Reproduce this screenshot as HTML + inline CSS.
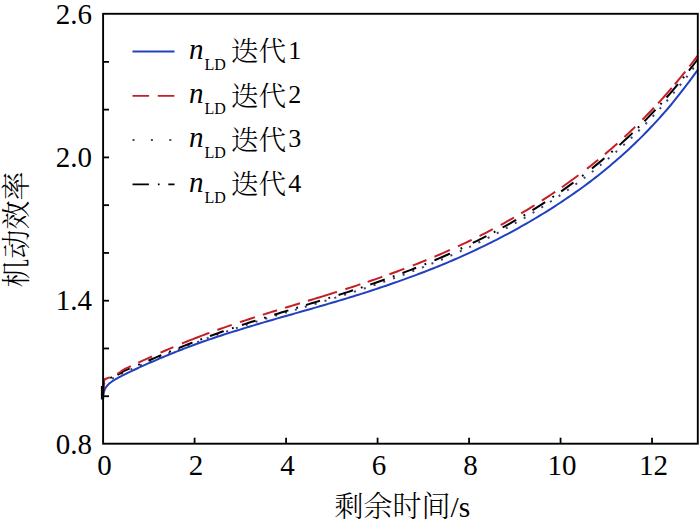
<!DOCTYPE html>
<html><head><meta charset="utf-8"><style>
html,body{margin:0;padding:0;background:#fff;}
svg{display:block;}
text{font-family:"Liberation Serif", "Noto Serif CJK SC", serif;fill:#000;}
</style></head><body>
<svg width="700" height="526" viewBox="0 0 700 526">
<rect width="700" height="526" fill="#fff"/>
<g fill="none" stroke-linejoin="round">
<line x1="101.7" y1="386" x2="101.7" y2="399.5" stroke="#000" stroke-width="1.6"/>
<path d="M103.10,399.31 L103.40,394.53 L103.56,393.56 L103.70,392.85 L104.01,391.60 L104.40,390.43 L104.47,390.24 L104.93,389.16 L105.39,388.27 L106.00,387.26 L106.50,386.55 L107.62,385.21 L108.73,384.09 L109.84,383.11 L110.00,382.99 L110.96,382.24 L112.07,381.44 L113.19,380.69 L114.00,380.18 L114.30,379.99 L115.42,379.32 L116.53,378.67 L117.64,378.05 L118.00,377.86 L118.76,377.44 L119.87,376.85 L120.99,376.27 L122.10,375.70 L123.22,375.14 L124.33,374.58 L125.45,374.03 L126.56,373.49 L127.67,372.95 L128.79,372.41 L129.90,371.88 L131.02,371.35 L132.13,370.82 L133.25,370.30 L134.36,369.77 L135.47,369.25 L136.59,368.74 L137.70,368.22 L138.82,367.71 L139.93,367.20 L141.05,366.69 L142.16,366.19 L143.27,365.69 L144.39,365.19 L145.50,364.69 L146.62,364.20 L147.73,363.71 L148.85,363.21 L151.60,362.00 L154.36,360.81 L157.12,359.62 L159.88,358.44 L162.64,357.28 L165.40,356.13 L168.16,354.99 L170.91,353.86 L173.67,352.75 L176.43,351.65 L179.19,350.56 L181.95,349.49 L184.71,348.43 L187.47,347.38 L190.22,346.34 L192.98,345.31 L195.74,344.29 L198.50,343.29 L201.26,342.29 L204.02,341.31 L206.78,340.35 L209.53,339.39 L212.29,338.45 L215.05,337.51 L217.81,336.59 L220.57,335.68 L223.33,334.78 L226.09,333.90 L228.84,333.02 L231.60,332.15 L234.36,331.29 L237.12,330.44 L239.88,329.60 L242.64,328.74 L245.40,327.88 L248.15,327.04 L250.91,326.20 L253.67,325.37 L256.43,324.54 L259.19,323.72 L261.95,322.90 L264.71,322.09 L267.46,321.29 L270.22,320.48 L272.98,319.69 L275.74,318.89 L278.50,318.10 L281.26,317.31 L284.02,316.53 L286.77,315.74 L289.53,314.96 L292.29,314.17 L295.05,313.39 L297.81,312.61 L300.57,311.83 L303.33,311.04 L306.08,310.25 L308.84,309.46 L311.60,308.67 L314.36,307.88 L317.12,307.09 L319.88,306.29 L322.64,305.49 L325.39,304.69 L328.15,303.88 L330.91,303.07 L333.67,302.26 L336.43,301.44 L339.19,300.61 L341.95,299.79 L344.70,298.95 L347.46,298.12 L350.22,297.27 L352.98,296.42 L355.74,295.57 L358.50,294.70 L361.26,293.84 L364.01,292.96 L366.77,292.08 L369.53,291.19 L372.29,290.29 L375.05,289.38 L377.81,288.47 L380.57,287.55 L383.32,286.62 L386.08,285.68 L388.84,284.73 L391.60,283.77 L394.36,282.81 L397.12,281.83 L399.88,280.85 L402.63,279.87 L405.39,278.89 L408.15,277.89 L410.91,276.89 L413.67,275.87 L416.43,274.84 L419.19,273.81 L421.94,272.76 L424.70,271.70 L427.46,270.63 L430.22,269.55 L432.98,268.45 L435.74,267.35 L438.50,266.23 L441.25,265.10 L444.01,263.96 L446.77,262.81 L449.53,261.64 L452.29,260.47 L455.05,259.28 L457.81,258.07 L460.56,256.85 L463.32,255.62 L466.08,254.38 L468.84,253.12 L471.60,251.85 L474.36,250.57 L477.12,249.27 L479.87,247.95 L482.63,246.63 L485.39,245.29 L488.15,243.93 L490.91,242.56 L493.67,241.17 L496.42,239.77 L499.18,238.35 L501.94,236.92 L504.70,235.48 L507.46,234.02 L510.22,232.55 L512.98,231.06 L515.73,229.55 L518.49,228.03 L521.25,226.48 L524.01,224.92 L526.77,223.35 L529.53,221.75 L532.29,220.14 L535.04,218.51 L537.80,216.85 L540.56,215.18 L543.32,213.49 L546.08,211.78 L548.84,210.05 L551.60,208.31 L554.35,206.55 L557.11,204.77 L559.87,202.97 L562.63,201.14 L565.39,199.29 L568.15,197.42 L570.91,195.53 L573.66,193.61 L576.42,191.67 L579.18,189.71 L581.94,187.72 L584.70,185.70 L587.46,183.66 L590.22,181.59 L592.97,179.50 L595.73,177.38 L598.49,175.23 L601.25,173.03 L604.01,170.78 L606.77,168.51 L609.53,166.20 L612.28,163.86 L615.04,161.49 L617.80,159.09 L620.56,156.66 L623.32,154.19 L626.08,151.69 L628.84,149.16 L631.59,146.59 L634.35,143.98 L637.11,141.33 L639.87,138.65 L642.63,135.88 L645.39,133.06 L648.15,130.20 L650.90,127.30 L653.66,124.36 L656.42,121.38 L659.18,118.35 L661.94,115.27 L664.70,112.16 L667.46,108.99 L670.21,105.77 L672.97,102.39 L675.73,98.96 L678.49,95.48 L681.25,91.94 L684.01,88.36 L686.77,84.74 L689.52,81.08 L692.28,77.36 L695.04,73.59 L697.80,69.76" stroke="#2040c0" stroke-width="2"/>
<path d="M103.10,394.54 L103.40,391.83 L103.56,388.69 L103.70,385.99 L104.01,384.51 L104.40,382.80 L104.47,382.72 L104.93,382.29 L105.39,381.91 L106.00,381.46 L106.50,381.16 L107.62,380.55 L108.73,380.01 L109.84,379.51 L110.00,379.44 L110.96,378.98 L112.07,378.50 L113.19,378.11 L114.00,377.83 L114.30,377.69 L115.42,377.19 L116.53,376.68 L117.64,376.17 L118.00,376.00 L118.76,375.54 L119.87,374.85 L120.99,374.15 L122.10,373.46 L123.22,372.76 L124.33,372.13 L125.45,371.66 L126.56,371.19 L127.67,370.71 L128.79,370.24 L129.90,369.77 L131.02,369.30 L132.13,368.82 L133.25,368.35 L134.36,367.88 L135.47,367.41 L136.59,366.93 L137.70,366.46 L138.82,365.99 L139.93,365.51 L141.05,365.04 L142.16,364.56 L143.27,364.09 L144.39,363.62 L145.50,363.14 L146.62,362.67 L147.73,362.19 L148.85,361.72 L151.60,360.55 L154.36,359.38 L157.12,358.22 L159.88,357.05 L162.64,355.90 L165.40,354.75 L168.16,353.61 L170.91,352.47 L173.67,351.34 L176.43,350.22 L179.19,349.11 L181.95,348.01 L184.71,346.91 L187.47,345.83 L190.22,344.75 L192.98,343.69 L195.74,342.63 L198.50,341.58 L201.26,340.55 L204.02,339.52 L206.78,338.50 L209.53,337.49 L212.29,336.49 L215.05,335.50 L217.81,334.52 L220.57,333.55 L223.33,332.59 L226.09,331.63 L228.84,330.68 L231.60,329.75 L234.36,328.81 L237.12,327.89 L239.88,326.97 L242.64,326.06 L245.40,325.16 L248.15,324.26 L250.91,323.37 L253.67,322.49 L256.43,321.61 L259.19,320.73 L261.95,319.87 L264.71,319.02 L267.46,318.17 L270.22,317.33 L272.98,316.49 L275.74,315.66 L278.50,314.83 L281.26,314.00 L284.02,313.17 L286.77,312.34 L289.53,311.52 L292.29,310.69 L295.05,309.87 L297.81,309.05 L300.57,308.23 L303.33,307.40 L306.08,306.58 L308.84,305.75 L311.60,304.92 L314.36,304.09 L317.12,303.26 L319.88,302.43 L322.64,301.60 L325.39,300.76 L328.15,299.92 L330.91,299.07 L333.67,298.22 L336.43,297.37 L339.19,296.51 L341.95,295.65 L344.70,294.78 L347.46,293.91 L350.22,293.04 L352.98,292.15 L355.74,291.26 L358.50,290.37 L361.26,289.47 L364.01,288.56 L366.77,287.65 L369.53,286.73 L372.29,285.80 L375.05,284.86 L377.81,283.92 L380.57,282.97 L383.32,282.01 L386.08,281.04 L388.84,280.06 L391.60,279.08 L394.36,278.09 L397.12,277.08 L399.88,276.07 L402.63,275.05 L405.39,274.03 L408.15,272.99 L410.91,271.94 L413.67,270.89 L416.43,269.82 L419.19,268.74 L421.94,267.66 L424.70,266.56 L427.46,265.45 L430.22,264.32 L432.98,263.19 L435.74,262.04 L438.50,260.89 L441.25,259.72 L444.01,258.54 L446.77,257.34 L449.53,256.14 L452.29,254.92 L455.05,253.69 L457.81,252.44 L460.56,251.18 L463.32,249.91 L466.08,248.63 L468.84,247.33 L471.60,246.01 L474.36,244.69 L477.12,243.35 L479.87,241.99 L482.63,240.62 L485.39,239.23 L488.15,237.83 L490.91,236.42 L493.67,234.99 L496.42,233.54 L499.18,232.08 L501.94,230.60 L504.70,229.10 L507.46,227.59 L510.22,226.07 L512.98,224.53 L515.73,222.96 L518.49,221.39 L521.25,219.79 L524.01,218.18 L526.77,216.54 L529.53,214.89 L532.29,213.23 L535.04,211.54 L537.80,209.83 L540.56,208.10 L543.32,206.35 L546.08,204.59 L548.84,202.80 L551.60,200.99 L554.35,199.17 L557.11,197.32 L559.87,195.45 L562.63,193.56 L565.39,191.64 L568.15,189.70 L570.91,187.74 L573.66,185.76 L576.42,183.75 L579.18,181.72 L581.94,179.66 L584.70,177.58 L587.46,175.47 L590.22,173.33 L592.97,171.17 L595.73,168.98 L598.49,166.77 L601.25,164.52 L604.01,162.23 L606.77,159.92 L609.53,157.57 L612.28,155.20 L615.04,152.79 L617.80,150.36 L620.56,147.89 L623.32,145.39 L626.08,142.85 L628.84,140.28 L631.59,137.68 L634.35,135.04 L637.11,132.37 L639.87,129.66 L642.63,126.90 L645.39,124.10 L648.15,121.26 L650.90,118.38 L653.66,115.46 L656.42,112.50 L659.18,109.49 L661.94,106.45 L664.70,103.36 L667.46,100.23 L670.21,97.05 L672.97,93.79 L675.73,90.49 L678.49,87.13 L681.25,83.73 L684.01,80.28 L686.77,76.78 L689.52,73.24 L692.28,69.64 L695.04,65.99 L697.80,62.29" stroke="#463a78" stroke-width="2" stroke-dasharray="2 8.3"/>
<path d="M103.10,392.50 L103.40,390.53 L103.56,386.61 L103.70,383.06 L104.01,381.47 L104.40,379.53 L104.47,379.50 L104.93,379.34 L105.39,379.19 L106.00,378.97 L106.50,378.84 L107.62,378.55 L108.73,378.26 L109.84,377.96 L110.00,377.92 L110.96,377.59 L112.07,377.20 L113.19,376.81 L114.00,376.53 L114.30,376.39 L115.42,375.89 L116.53,375.38 L117.64,374.87 L118.00,374.70 L118.76,374.24 L119.87,373.55 L120.99,372.85 L122.10,372.16 L123.22,371.46 L124.33,370.83 L125.45,370.36 L126.56,369.89 L127.67,369.41 L128.79,368.94 L129.90,368.47 L131.02,368.00 L132.13,367.52 L133.25,367.05 L134.36,366.58 L135.47,366.11 L136.59,365.63 L137.70,365.16 L138.82,364.69 L139.93,364.21 L141.05,363.74 L142.16,363.26 L143.27,362.79 L144.39,362.32 L145.50,361.84 L146.62,361.37 L147.73,360.89 L148.85,360.42 L151.60,359.25 L154.36,358.08 L157.12,356.92 L159.88,355.75 L162.64,354.60 L165.40,353.45 L168.16,352.31 L170.91,351.17 L173.67,350.04 L176.43,348.92 L179.19,347.81 L181.95,346.71 L184.71,345.61 L187.47,344.53 L190.22,343.45 L192.98,342.39 L195.74,341.33 L198.50,340.28 L201.26,339.25 L204.02,338.22 L206.78,337.20 L209.53,336.19 L212.29,335.19 L215.05,334.20 L217.81,333.22 L220.57,332.25 L223.33,331.29 L226.09,330.33 L228.84,329.38 L231.60,328.45 L234.36,327.51 L237.12,326.59 L239.88,325.67 L242.64,324.76 L245.40,323.86 L248.15,322.96 L250.91,322.07 L253.67,321.19 L256.43,320.31 L259.19,319.43 L261.95,318.56 L264.71,317.70 L267.46,316.84 L270.22,315.98 L272.98,315.12 L275.74,314.27 L278.50,313.42 L281.26,312.57 L284.02,311.73 L286.77,310.89 L289.53,310.04 L292.29,309.20 L295.05,308.36 L297.81,307.52 L300.57,306.68 L303.33,305.84 L306.08,305.00 L308.84,304.16 L311.60,303.32 L314.36,302.47 L317.12,301.63 L319.88,300.78 L322.64,299.93 L325.39,299.07 L328.15,298.22 L330.91,297.36 L333.67,296.49 L336.43,295.62 L339.19,294.75 L341.95,293.88 L344.70,293.00 L347.46,292.11 L350.22,291.22 L352.98,290.32 L355.74,289.42 L358.50,288.51 L361.26,287.60 L364.01,286.68 L366.77,285.75 L369.53,284.82 L372.29,283.88 L375.05,282.93 L377.81,281.97 L380.57,281.01 L383.32,280.03 L386.08,279.05 L388.84,278.07 L391.60,277.07 L394.36,276.06 L397.12,275.05 L399.88,274.02 L402.63,272.99 L405.39,271.94 L408.15,270.89 L410.91,269.83 L413.67,268.75 L416.43,267.67 L419.19,266.57 L421.94,265.47 L424.70,264.35 L427.46,263.22 L430.22,262.08 L432.98,260.93 L435.74,259.77 L438.50,258.60 L441.25,257.41 L444.01,256.21 L446.77,255.00 L449.53,253.78 L452.29,252.54 L455.05,251.29 L457.81,250.03 L460.56,248.75 L463.32,247.46 L466.08,246.16 L468.84,244.84 L471.60,243.51 L474.36,242.17 L477.12,240.81 L479.87,239.43 L482.63,238.04 L485.39,236.64 L488.15,235.22 L490.91,233.79 L493.67,232.34 L496.42,230.87 L499.18,229.39 L501.94,227.89 L504.70,226.37 L507.46,224.84 L510.22,223.29 L512.98,221.73 L515.73,220.14 L518.49,218.54 L521.25,216.92 L524.01,215.29 L526.77,213.63 L529.53,211.96 L532.29,210.26 L535.04,208.55 L537.80,206.82 L540.56,205.07 L543.32,203.30 L546.08,201.50 L548.84,199.69 L551.60,197.86 L554.35,196.00 L557.11,194.13 L559.87,192.23 L562.63,190.31 L565.39,188.36 L568.15,186.40 L570.91,184.41 L573.66,182.39 L576.42,180.36 L579.18,178.29 L581.94,176.21 L584.70,174.10 L587.46,171.96 L590.22,169.79 L592.97,167.60 L595.73,165.38 L598.49,163.14 L601.25,160.87 L604.01,158.56 L606.77,156.23 L609.53,153.87 L612.28,151.48 L615.04,149.06 L617.80,146.61 L620.56,144.13 L623.32,141.61 L626.08,139.06 L628.84,136.48 L631.59,133.87 L634.35,131.22 L637.11,128.53 L639.87,125.81 L642.63,123.05 L645.39,120.26 L648.15,117.42 L650.90,114.55 L653.66,111.64 L656.42,108.69 L659.18,105.70 L661.94,102.67 L664.70,99.59 L667.46,96.47 L670.21,93.31 L672.97,90.11 L675.73,86.85 L678.49,83.55 L681.25,80.21 L684.01,76.82 L686.77,73.37 L689.52,69.88 L692.28,66.34 L695.04,62.74 L697.80,59.09" stroke="#000" stroke-width="2" stroke-dasharray="13.16 6.00 1.80 6.00 13.81 9.26 1.80 9.26 14.00 8.56 1.80 8.56 14.72 8.44 1.80 8.44 14.54 8.76 1.80 8.76 14.29 8.90 1.80 8.90 14.75 8.30 1.80 8.30 14.64 8.84 1.80 8.84 15.23 8.16 1.80 8.16 15.35 8.52 1.80 8.52 14.68 8.98 1.80 8.98 16.90 11.68 1.80 11.68 15.32 8.27 1.80 8.27 15.49 8.60 1.80 8.60 15.04 8.74 1.80 8.74 15.12 10.74 1.80 10.74 16.15 9.05 1.80 9.05 17.89 7.46 1.80 7.46 15.90 7.36 1.80 7.36 17.52 7.85 1.80 7.85 14.45 749.90"/>
<path d="M103.10,392.50 L103.40,390.50 L103.56,386.56 L103.70,383.00 L104.01,381.38 L104.40,379.40 L104.47,379.37 L104.93,379.17 L105.39,378.97 L106.00,378.70 L106.50,378.52 L107.62,378.13 L108.73,377.74 L109.84,377.35 L110.00,377.30 L110.96,376.89 L112.07,376.42 L113.19,375.95 L114.00,375.60 L114.30,375.44 L115.42,374.86 L116.53,374.27 L117.64,373.69 L118.00,373.50 L118.76,372.98 L119.87,372.22 L120.99,371.46 L122.10,370.70 L123.22,369.94 L124.33,369.25 L125.45,368.71 L126.56,368.18 L127.67,367.65 L128.79,367.12 L129.90,366.60 L131.02,366.08 L132.13,365.55 L133.25,365.03 L134.36,364.51 L135.47,363.99 L136.59,363.47 L137.70,362.96 L138.82,362.44 L139.93,361.93 L141.05,361.41 L142.16,360.90 L143.27,360.39 L144.39,359.88 L145.50,359.37 L146.62,358.86 L147.73,358.36 L148.85,357.85 L151.60,356.61 L154.36,355.37 L157.12,354.14 L159.88,352.92 L162.64,351.71 L165.40,350.51 L168.16,349.32 L170.91,348.14 L173.67,346.97 L176.43,345.81 L179.19,344.66 L181.95,343.52 L184.71,342.40 L187.47,341.29 L190.22,340.19 L192.98,339.09 L195.74,338.02 L198.50,336.95 L201.26,335.89 L204.02,334.85 L206.78,333.81 L209.53,332.79 L212.29,331.77 L215.05,330.77 L217.81,329.78 L220.57,328.79 L223.33,327.82 L226.09,326.86 L228.84,325.90 L231.60,324.95 L234.36,324.01 L237.12,323.08 L239.88,322.16 L242.64,321.24 L245.40,320.34 L248.15,319.43 L250.91,318.54 L253.67,317.65 L256.43,316.76 L259.19,315.88 L261.95,315.01 L264.71,314.14 L267.46,313.28 L270.22,312.41 L272.98,311.56 L275.74,310.70 L278.50,309.85 L281.26,309.00 L284.02,308.16 L286.77,307.31 L289.53,306.47 L292.29,305.62 L295.05,304.78 L297.81,303.94 L300.57,303.10 L303.33,302.26 L306.08,301.42 L308.84,300.57 L311.60,299.73 L314.36,298.88 L317.12,298.04 L319.88,297.19 L322.64,296.34 L325.39,295.48 L328.15,294.62 L330.91,293.76 L333.67,292.90 L336.43,292.03 L339.19,291.16 L341.95,290.28 L344.70,289.40 L347.46,288.52 L350.22,287.62 L352.98,286.73 L355.74,285.83 L358.50,284.92 L361.26,284.00 L364.01,283.08 L366.77,282.15 L369.53,281.22 L372.29,280.28 L375.05,279.33 L377.81,278.37 L380.57,277.41 L383.32,276.44 L386.08,275.46 L388.84,274.47 L391.60,273.47 L394.36,272.46 L397.12,271.45 L399.88,270.42 L402.63,269.39 L405.39,268.34 L408.15,267.29 L410.91,266.23 L413.67,265.15 L416.43,264.07 L419.19,262.97 L421.94,261.87 L424.70,260.75 L427.46,259.62 L430.22,258.48 L432.98,257.33 L435.74,256.17 L438.50,255.00 L441.25,253.81 L444.01,252.61 L446.77,251.40 L449.53,250.18 L452.29,248.94 L455.05,247.69 L457.81,246.43 L460.56,245.15 L463.32,243.86 L466.08,242.56 L468.84,241.24 L471.60,239.91 L474.36,238.57 L477.12,237.21 L479.87,235.83 L482.63,234.44 L485.39,233.04 L488.15,231.62 L490.91,230.19 L493.67,228.74 L496.42,227.27 L499.18,225.79 L501.94,224.29 L504.70,222.77 L507.46,221.24 L510.22,219.69 L512.98,218.13 L515.73,216.54 L518.49,214.94 L521.25,213.32 L524.01,211.69 L526.77,210.03 L529.53,208.36 L532.29,206.66 L535.04,204.95 L537.80,203.22 L540.56,201.47 L543.32,199.70 L546.08,197.90 L548.84,196.09 L551.60,194.26 L554.35,192.40 L557.11,190.53 L559.87,188.63 L562.63,186.71 L565.39,184.76 L568.15,182.80 L570.91,180.81 L573.66,178.79 L576.42,176.76 L579.18,174.69 L581.94,172.61 L584.70,170.50 L587.46,168.36 L590.22,166.19 L592.97,164.00 L595.73,161.78 L598.49,159.54 L601.25,157.27 L604.01,154.96 L606.77,152.63 L609.53,150.27 L612.28,147.88 L615.04,145.46 L617.80,143.01 L620.56,140.53 L623.32,138.01 L626.08,135.46 L628.84,132.88 L631.59,130.27 L634.35,127.62 L637.11,124.93 L639.87,122.21 L642.63,119.45 L645.39,116.66 L648.15,113.82 L650.90,110.95 L653.66,108.04 L656.42,105.09 L659.18,102.10 L661.94,99.07 L664.70,95.99 L667.46,92.87 L670.21,89.71 L672.97,86.51 L675.73,83.25 L678.49,79.95 L681.25,76.61 L684.01,73.22 L686.77,69.77 L689.52,66.28 L692.28,62.74 L695.04,59.14 L697.80,55.49" stroke="#c41e26" stroke-width="2" stroke-dasharray="19.06 8.18 15.69 8.16 15.06 9.30 14.05 9.31 29.40 8.51 15.15 8.76 15.78 8.29 14.87 8.27 15.68 8.26 30.46 8.81 15.78 7.70 15.45 7.64 15.78 9.11 14.75 8.66 16.90 8.78 15.15 8.81 14.84 8.96 15.23 8.33 15.67 8.64 15.94 8.13 20.49 10.82 14.20 8.84 16.42 9.59 14.73 10.26 16.55 6.17 20.47 4.78 16.52 6.60 13.64 751.41"/>
</g>
<g stroke="#000" stroke-width="1.8"><line x1="194.59" y1="443.70" x2="194.59" y2="437.70"/><line x1="286.08" y1="443.70" x2="286.08" y2="437.70"/><line x1="377.58" y1="443.70" x2="377.58" y2="437.70"/><line x1="469.07" y1="443.70" x2="469.07" y2="437.70"/><line x1="560.56" y1="443.70" x2="560.56" y2="437.70"/><line x1="652.05" y1="443.70" x2="652.05" y2="437.70"/><line x1="103.10" y1="396.23" x2="109.00" y2="396.23"/><line x1="103.10" y1="348.47" x2="109.00" y2="348.47"/><line x1="103.10" y1="300.70" x2="109.00" y2="300.70"/><line x1="103.10" y1="252.93" x2="109.00" y2="252.93"/><line x1="103.10" y1="205.17" x2="109.00" y2="205.17"/><line x1="103.10" y1="157.40" x2="109.00" y2="157.40"/><line x1="103.10" y1="109.63" x2="109.00" y2="109.63"/><line x1="103.10" y1="61.87" x2="109.00" y2="61.87"/></g>
<rect x="103.10" y="13.80" width="594.70" height="429.90" fill="none" stroke="#000" stroke-width="1.9"/>
<g font-size="29"><text x="104.60" y="474.5" text-anchor="middle">0</text><text x="196.09" y="474.5" text-anchor="middle">2</text><text x="287.58" y="474.5" text-anchor="middle">4</text><text x="379.08" y="474.5" text-anchor="middle">6</text><text x="470.57" y="474.5" text-anchor="middle">8</text><text x="562.06" y="474.5" text-anchor="middle">10</text><text x="653.55" y="474.5" text-anchor="middle">12</text><text x="92" y="453.70" text-anchor="end">0.8</text><text x="92" y="310.40" text-anchor="end">1.4</text><text x="92" y="167.10" text-anchor="end">2.0</text><text x="92" y="23.80" text-anchor="end">2.6</text></g>
<g><line x1="132.5" y1="51.50" x2="174.5" y2="51.50" stroke="#2040c0" stroke-width="1.8" /><text x="189" y="58.80" font-size="29" font-style="italic">n</text><text x="204.5" y="69.60" font-size="16">LD</text><text x="231" y="61.20" font-size="27.5" font-weight="300">迭代</text><text x="288.3" y="58.80" font-size="26">1</text><line x1="132.5" y1="95.80" x2="174.5" y2="95.80" stroke="#c41e26" stroke-width="1.8" stroke-dasharray="16.6 8.7"/><text x="189" y="103.10" font-size="29" font-style="italic">n</text><text x="204.5" y="113.90" font-size="16">LD</text><text x="231" y="105.50" font-size="27.5" font-weight="300">迭代</text><text x="288.3" y="103.10" font-size="26">2</text><line x1="132.5" y1="140.10" x2="174.5" y2="140.10" stroke="#404868" stroke-width="2" stroke-dasharray="2 16.4"/><text x="189" y="147.40" font-size="29" font-style="italic">n</text><text x="204.5" y="158.20" font-size="16">LD</text><text x="231" y="149.80" font-size="27.5" font-weight="300">迭代</text><text x="288.3" y="147.40" font-size="26">3</text><line x1="132.5" y1="184.40" x2="174.5" y2="184.40" stroke="#000" stroke-width="1.8" stroke-dasharray="16.4 9 1.7 8.7"/><text x="189" y="191.70" font-size="29" font-style="italic">n</text><text x="204.5" y="202.50" font-size="16">LD</text><text x="231" y="194.10" font-size="27.5" font-weight="300">迭代</text><text x="288.3" y="191.70" font-size="26">4</text></g>
<text x="334.6" y="517" font-size="29"><tspan font-weight="300">剩余时间</tspan><tspan font-size="29.5">/s</tspan></text>
<text transform="translate(26.5,229.6) rotate(-90)" font-size="29" text-anchor="middle" font-weight="300">机动效率</text>
</svg>
</body></html>
